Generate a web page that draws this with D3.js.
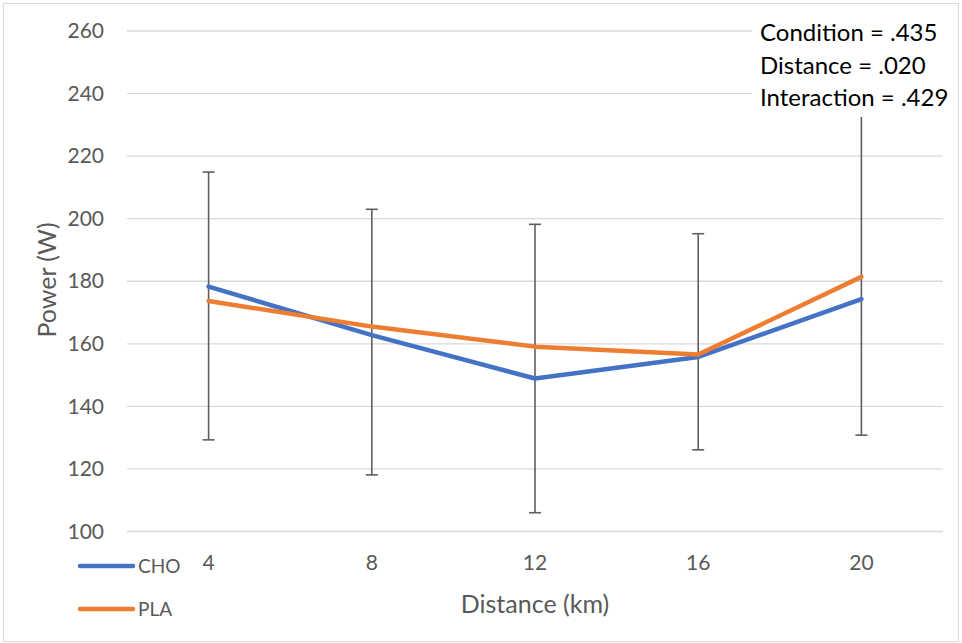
<!DOCTYPE html>
<html><head><meta charset="utf-8">
<script src="https://cdn.jsdelivr.net/npm/d3@7"></script>
<style>body{margin:0;background:#fff;} text{font-family:Lato,"Open Sans",sans-serif;}</style>
</head><body><svg id="c" width="962" height="643"></svg>
<script>
const categories = ["4","8","12","16","20"];
const cho = [178.3, 162.8, 148.9, 155.8, 174.3];
const pla = [173.7, 165.5, 159.1, 156.6, 181.4];
const errUpper = [214.9, 203.0, 198.2, 195.2, 245];
const errLower = [129.3, 118.1, 106.0, 126.1, 130.8];
const yTicks = [100,120,140,160,180,200,220,240,260];
const annotation = ["Condition = .435","Distance = .020","Interaction = .429"];
const seriesNames = ["CHO","PLA"];
const colors = ["#4472C4","#ED7D31"];

const svg = d3.select("#c");
svg.append("rect").attr("x",3.5).attr("y",3.5).attr("width",955).attr("height",638)
  .attr("fill","#fff").attr("stroke","#d9d9d9");

const x = d3.scaleBand().domain(categories).range([127,943]);
const y = d3.scaleLinear().domain([100,260]).range([531.5,31]);
const cx = c => x(c)+x.bandwidth()/2;

// gridlines
svg.append("g").selectAll("line").data(yTicks).join("line")
  .attr("x1",127).attr("x2",943).attr("y1",d=>y(d)).attr("y2",d=>y(d))
  .attr("stroke","#d9d9d9").attr("stroke-width",1.3);

// y axis labels
const yAxis = d3.axisLeft(y).tickValues(yTicks).tickSize(0).tickPadding(0);
const gy = svg.append("g").attr("transform","translate(104,0)").call(yAxis);
gy.select(".domain").remove();
gy.selectAll("text").attr("font-size",21).attr("fill","#595959").attr("font-family","Lato,'Open Sans',sans-serif");

// x axis labels
const xAxis = d3.axisBottom(x).tickSize(0).tickPadding(0);
const gx = svg.append("g").attr("transform","translate(0,555)").call(xAxis);
gx.select(".domain").remove();
gx.selectAll("text").attr("font-size",21).attr("fill","#595959").attr("font-family","Lato,'Open Sans',sans-serif");

// error bars
const eb = svg.append("g").attr("stroke","#5f5f5f").attr("stroke-width",1.6);
categories.forEach((c,i)=>{
  eb.append("line").attr("x1",cx(c)).attr("x2",cx(c)).attr("y1",y(errUpper[i])).attr("y2",y(errLower[i]));
  [errUpper[i],errLower[i]].forEach(v=>{
    eb.append("line").attr("x1",cx(c)-6).attr("x2",cx(c)+6).attr("y1",y(v)).attr("y2",y(v));
  });
});

// lines
const line = d3.line().x((d,i)=>cx(categories[i])).y(d=>y(d));
[cho,pla].forEach((s,k)=>{
  svg.append("path").datum(s).attr("d",line).attr("fill","none")
    .attr("stroke",colors[k]).attr("stroke-width",4.5).attr("stroke-linejoin","round").attr("stroke-linecap","round");
});

// annotation box
svg.append("rect").attr("x",752).attr("y",14).attr("width",204).attr("height",103).attr("fill","#fff");
svg.append("g").selectAll("text").data(annotation).join("text")
  .attr("x",760).attr("y",(d,i)=>33+i*32.5).attr("dy","0.35em")
  .attr("font-size",24).attr("fill","#000").text(d=>d);

// axis titles
svg.append("text").attr("x",535).attr("y",604).attr("dy","0.35em").attr("text-anchor","middle")
  .attr("font-size",25).attr("fill","#595959").text("Distance (km)");
svg.append("text").attr("transform","translate(47,280) rotate(-90)").attr("dy","0.35em").attr("text-anchor","middle")
  .attr("font-size",25).attr("fill","#595959").text("Power (W)");

// legend
const lg = svg.append("g");
seriesNames.forEach((n,k)=>{
  const ly = 566 + k*43;
  lg.append("line").attr("x1",80).attr("x2",133).attr("y1",ly).attr("y2",ly)
    .attr("stroke",colors[k]).attr("stroke-width",4.5).attr("stroke-linecap","round");
  lg.append("text").attr("x",138).attr("y",ly).attr("dy","0.35em").attr("font-size",19)
    .attr("fill","#595959").text(n);
});
</script></body></html>
